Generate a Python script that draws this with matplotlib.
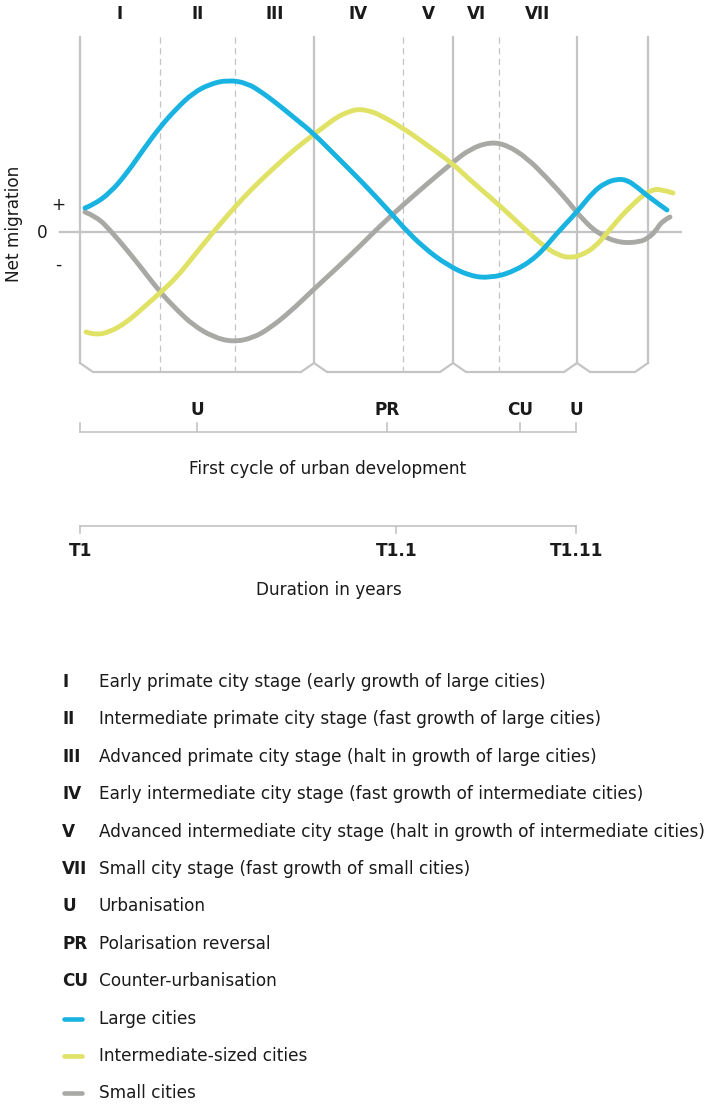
import matplotlib.pyplot as plt
from matplotlib.path import Path
from matplotlib.patches import PathPatch
import numpy as np

plt.rcParams['font.family'] = ['DejaVu Sans']

# tempo dall'inizio del ciclo (T1 = 0) e saldo migratorio (0 = linea dello zero)
large_t = [5, 13, 30, 47, 63, 80, 97, 113, 130, 148, 167, 183, 200, 217, 233, 257, 283,
           310, 323, 343, 367, 390, 410, 433, 457, 477, 497, 513, 525, 537, 547, 557, 570, 587]
large_m = [24, 27, 39, 59, 82, 105, 124, 139, 148, 152, 149, 139, 126, 112, 99, 75, 49,
           20, 5, -15, -33, -44, -46, -40, -25, -1, 20, 40, 49, 53, 52, 45, 34, 22]

inter_t = [6, 15, 30, 47, 63, 80, 97, 113, 130, 147, 163, 180, 197, 215, 233, 245, 257, 268,
           278, 290, 300, 323, 347, 372, 390, 410, 430, 450, 465, 478, 490, 502, 515, 527, 537,
           547, 563, 572, 580, 593]
inter_m = [-100, -103, -100, -90, -76, -61, -45, -25, -4, 16, 34, 51, 67, 83, 97, 106, 115, 120,
           123, 121, 117, 104, 87, 69, 52, 35, 17, -2, -15, -23, -26, -23, -15, -1, 11,
           22, 37, 42, 43, 39]

small_t = [5, 17, 30, 47, 63, 80, 97, 113, 133, 153, 173, 190, 210, 233, 257, 280, 300, 323,
           347, 372, 390, 410, 427, 447, 467, 487, 503, 520, 540, 560, 568, 575, 582, 590]
small_m = [20, 15, 2, -18, -38, -60, -78, -93, -105, -110, -106, -96, -80, -58, -36, -14, 6, 27,
           48, 69, 83, 90, 87, 74, 54, 32, 12, -3, -11, -10, -6, 0, 11, 15]

# confini delle fasi
solid_bounds = [0, 234, 373, 497, 568]
dashed_bounds = [80, 155, 323, 419]
stage_edges = [0, 80, 155, 234, 323, 373, 419, 497]
stage_names = ['I', 'II', 'III', 'IV', 'V', 'VI', 'VII']

cycle_ticks = [0, 117, 307, 440, 496]
cycle_names = ['', 'U', 'PR', 'CU', 'U']
time_ticks = [0, 316, 496]
time_names = ['T1', 'T1.1', 'T1.11']

legend_keys = ['I', 'II', 'III', 'IV', 'V', 'VII', 'U', 'PR', 'CU']
legend_texts = ['Early primate city stage (early growth of large cities)',
                'Intermediate primate city stage (fast growth of large cities)',
                'Advanced primate city stage (halt in growth of large cities)',
                'Early intermediate city stage (fast growth of intermediate cities)',
                'Advanced intermediate city stage (halt in growth of intermediate cities)',
                'Small city stage (fast growth of small cities)',
                'Urbanisation',
                'Polarisation reversal',
                'Counter-urbanisation']
series_names = ['Large cities', 'Intermediate-sized cities', 'Small cities']

c_blue = '#19b3e2'
c_yellow = '#dfe264'
c_gray = '#a8a8a5'
c_frame = '#c4c4c4'
c_text = '#1a1a1a'
fs = 12.2


def smooth_line(ax, t, m, color, lw):
    # curva di Bezier quadratica che passa per i punti medi
    p = np.column_stack([t, m]).astype(float)
    verts = [p[0]]
    codes = [Path.MOVETO]
    for i in range(1, len(p) - 2):
        verts += [p[i], (p[i] + p[i + 1]) / 2]
        codes += [Path.CURVE3, Path.CURVE3]
    verts += [p[-2], p[-1]]
    codes += [Path.CURVE3, Path.CURVE3]
    patch = PathPatch(Path(verts, codes), facecolor='none', edgecolor=color, lw=lw,
                      capstyle='round', joinstyle='round', zorder=3)
    ax.add_patch(patch)


fig = plt.figure(figsize=(7.21, 11.05), dpi=100)
ax = fig.add_axes([0, 0, 1, 1])
ax.set_xlim(-80, 641)
ax.set_ylim(-873, 232)
ax.axis('off')

top, foot, base = 195, -131, -140
notch = 13

# linee verticali e cornice inferiore
for x in solid_bounds:
    ax.plot([x, x], [top, foot], color=c_frame, lw=1.6, zorder=1)
for x in dashed_bounds:
    ax.plot([x, x], [top, base], color=c_frame, lw=0.9, ls=(0, (5, 3.5)), zorder=1)
for a, b in zip(solid_bounds[:-1], solid_bounds[1:]):
    ax.plot([a, a + notch, b - notch, b], [foot, base, base, foot],
            color=c_frame, lw=1.6, zorder=1, solid_joinstyle='miter')
ax.plot([-20, 601], [0, 0], color=c_frame, lw=1.6, zorder=1)

# curve
for t, m, c in [(small_t, small_m, c_gray), (inter_t, inter_m, c_yellow), (large_t, large_m, c_blue)]:
    smooth_line(ax, t, m, c, 3.5)

for a, b, name in zip(stage_edges[:-1], stage_edges[1:], stage_names):
    ax.text((a + b) / 2, 218, name, ha='center', va='center', fontsize=fs,
            fontweight='bold', color=c_text)

ax.text(-22, 27, '+', ha='center', va='center', fontsize=fs, color=c_text)
ax.text(-38, -1, '0', ha='center', va='center', fontsize=fs, color=c_text)
ax.text(-22, -33, '-', ha='center', va='center', fontsize=fs, color=c_text)
ax.text(-66, 8, 'Net migration', ha='center', va='center', rotation=90,
        fontsize=fs, color=c_text)

# ciclo di sviluppo urbano
ax.plot([cycle_ticks[0], cycle_ticks[-1]], [-200, -200], color=c_frame, lw=1.2)
for x, name in zip(cycle_ticks, cycle_names):
    ax.plot([x, x], [-200, -191], color=c_frame, lw=1.2)
    ax.text(x, -178, name, ha='center', va='center', fontsize=fs,
            fontweight='bold', color=c_text)
ax.text(248, -237, 'First cycle of urban development', ha='center', va='center',
        fontsize=fs, color=c_text)

# durata
ax.plot([time_ticks[0], time_ticks[-1]], [-294, -294], color=c_frame, lw=1.2)
for x, name in zip(time_ticks, time_names):
    ax.plot([x, x], [-294, -301], color=c_frame, lw=1.2)
    ax.text(x + 1, -319, name, ha='center', va='center', fontsize=fs,
            fontweight='bold', color=c_text)
ax.text(249, -358, 'Duration in years', ha='center', va='center', fontsize=fs, color=c_text)

# legenda
row0, step = -450, 37.4
for i, (key, txt) in enumerate(zip(legend_keys, legend_texts)):
    y = row0 - i * step
    ax.text(-18, y, key, ha='left', va='center', fontsize=fs, fontweight='bold', color=c_text)
    ax.text(19, y, txt, ha='left', va='center', fontsize=fs, color=c_text)
for j, (name, c) in enumerate(zip(series_names, [c_blue, c_yellow, c_gray])):
    y = row0 - (len(legend_keys) + j) * step
    ax.plot([-16, 2], [y, y], color=c, lw=3.3, solid_capstyle='round')
    ax.text(19, y, name, ha='left', va='center', fontsize=fs, color=c_text)

fig.savefig('out.png', dpi=100)
